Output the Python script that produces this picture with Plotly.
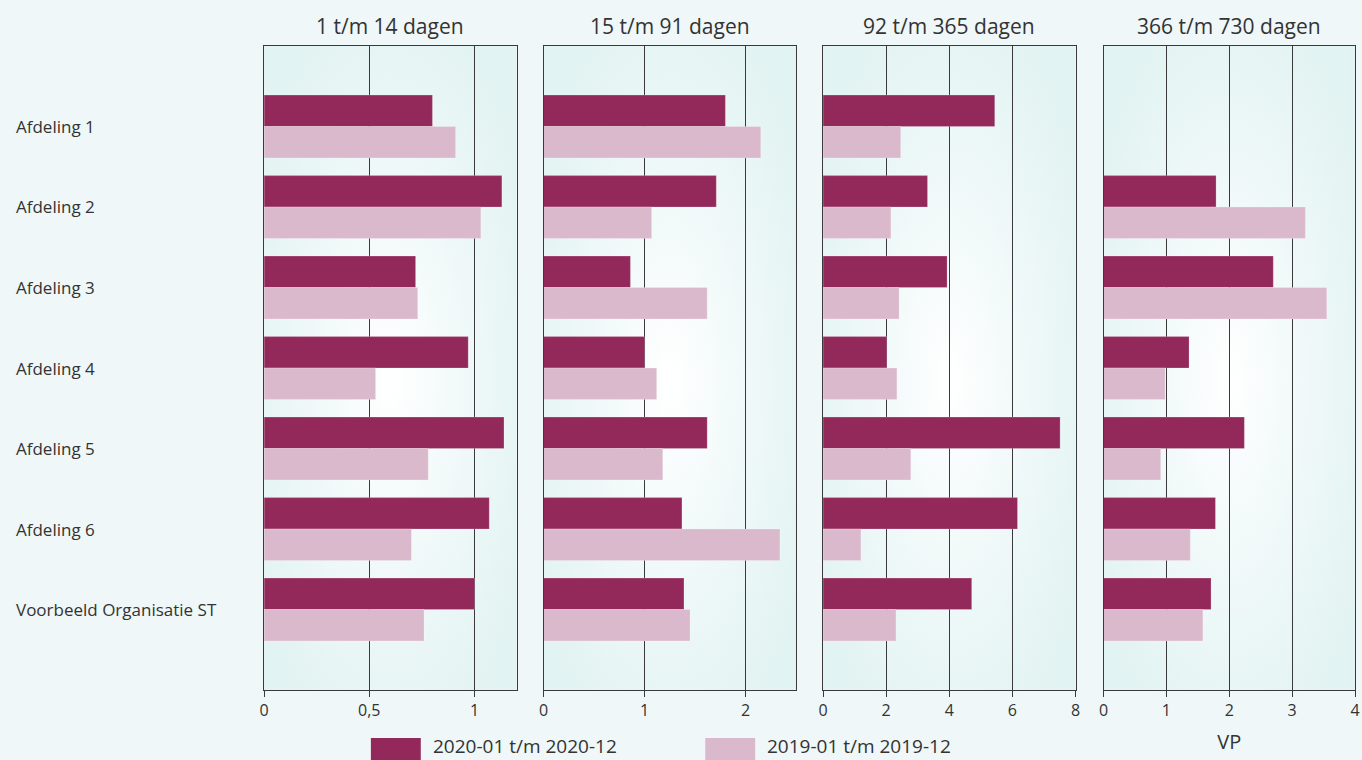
import base64
import plotly.graph_objects as go
from plotly.subplots import make_subplots

categories = ["Afdeling 1", "Afdeling 2", "Afdeling 3", "Afdeling 4",
              "Afdeling 5", "Afdeling 6", "Voorbeeld Organisatie ST"]
panel_titles = ["1 t/m 14 dagen", "15 t/m 91 dagen", "92 t/m 365 dagen", "366 t/m 730 dagen"]
series_names = ["2020-01 t/m 2020-12", "2019-01 t/m 2019-12"]

# values per panel (same order as categories); None = no bar
p1_2020 = [0.80, 1.13, 0.72, 0.97, 1.14, 1.07, 1.00]
p1_2019 = [0.91, 1.03, 0.73, 0.53, 0.78, 0.70, 0.76]
p2_2020 = [1.80, 1.71, 0.86, 1.00, 1.62, 1.37, 1.39]
p2_2019 = [2.15, 1.07, 1.62, 1.12, 1.18, 2.34, 1.45]
p3_2020 = [5.44, 3.31, 3.93, 2.02, 7.51, 6.16, 4.71]
p3_2019 = [2.46, 2.15, 2.41, 2.34, 2.78, 1.20, 2.31]
p4_2020 = [None, 1.79, 2.70, 1.36, 2.24, 1.78, 1.71]
p4_2019 = [None, 3.21, 3.55, 0.98, 0.91, 1.38, 1.58]

x_ranges = [[0, 1.2], [0, 2.5], [0, 8], [0, 4]]
x_tickvals = [[0, 0.5, 1], [0, 1, 2], [0, 2, 4, 6, 8], [0, 1, 2, 3, 4]]
x_ticktext = [["0", "0,5", "1"], ["0", "1", "2"], ["0", "2", "4", "6", "8"], ["0", "1", "2", "3", "4"]]
x_axis_titles = ["", "", "", "VP"]

series_2020 = [p1_2020, p2_2020, p3_2020, p4_2020]
series_2019 = [p1_2019, p2_2019, p3_2019, p4_2019]

DARK = "#93295a"
LIGHT = "#dbb9cd"
TEXT = "#333333"
FONT = "Open Sans"

W, H = 1362, 760


def fx(px):
    # horizontal paper fraction for a target pixel (small render correction)
    return ((px - 3.44) / 0.99451) / W


# panel pixel extents (as seen in the target)
px_left = [263, 543, 823, 1104]
px_right = [516, 796, 1076, 1356]
plot_top, plot_bottom = 46, 690

fig = make_subplots(rows=1, cols=4, shared_yaxes=False)

ypos = list(range(len(categories)))

for i in range(4):
    col = i + 1
    fig.add_trace(go.Bar(
        y=ypos, x=series_2020[i], orientation="h", name=series_names[0],
        marker=dict(color=DARK, line=dict(color="rgba(255,255,255,0.35)", width=0.6)),
        showlegend=False, offsetgroup="a"), row=1, col=col)
    fig.add_trace(go.Bar(
        y=ypos, x=series_2019[i], orientation="h", name=series_names[1],
        marker=dict(color=LIGHT, line=dict(color="rgba(255,255,255,0.35)", width=0.6)),
        showlegend=False, offsetgroup="b"), row=1, col=col)

svg = ("<svg xmlns='http://www.w3.org/2000/svg' width='200' height='400' viewBox='0 0 200 400' "
       "preserveAspectRatio='none'><defs><radialGradient id='g' cx='50%' cy='52%' r='62%'>"
       "<stop offset='0' stop-color='#ffffff'/><stop offset='0.45' stop-color='#f1f9f9'/>"
       "<stop offset='1' stop-color='#e1f3f2'/></radialGradient></defs>"
       "<rect width='200' height='400' fill='url(#g)'/></svg>")
svg_uri = "data:image/svg+xml;base64," + base64.b64encode(svg.encode()).decode()

images = []
for i in range(4):
    ax = "" if i == 0 else str(i + 1)
    xd = [max(0.0, fx(px_left[i])), min(1.0, fx(px_right[i]))]
    fig.update_xaxes(
        domain=xd, range=x_ranges[i], tickvals=x_tickvals[i], ticktext=x_ticktext[i],
        showgrid=True, gridcolor="#3a3a3a", gridwidth=1,
        showline=True, linecolor="#3a3a3a", linewidth=1, mirror=True,
        ticks="outside", ticklen=6, tickcolor="#3a3a3a",
        tickfont=dict(family=FONT, size=16, color=TEXT),
        zeroline=False, fixedrange=True,
        title=dict(text=x_axis_titles[i], font=dict(family=FONT, size=20, color=TEXT), standoff=14),
        row=1, col=i + 1)
    fig.update_yaxes(
        domain=[(H - plot_bottom) / H, (H - plot_top) / H],
        range=[len(categories), -1], showticklabels=False, showgrid=False,
        showline=True, linecolor="#3a3a3a", linewidth=1, mirror=True,
        zeroline=False, ticks="", fixedrange=True,
        row=1, col=i + 1)
    images.append(dict(source=svg_uri, xref="x" + ax + " domain", yref="y" + ax + " domain",
                       x=0, y=1, sizex=1, sizey=1, xanchor="left", yanchor="top",
                       sizing="stretch", layer="below"))

annotations = []
for i, t in enumerate(panel_titles):
    annotations.append(dict(text=t, x=fx((px_left[i] + px_right[i]) / 2), y=(H - 26) / H,
                            xref="paper", yref="paper", showarrow=False,
                            xanchor="center", yanchor="middle",
                            font=dict(family=FONT, size=21, color=TEXT)))
for j, c in enumerate(categories):
    annotations.append(dict(text=c, x=fx(12), y=j, xref="paper", yref="y",
                            showarrow=False, xanchor="left", yanchor="middle",
                            font=dict(family=FONT, size=17, color=TEXT)))

# manual legend
shapes = []
legend_items = [(370, 420, 430, DARK, series_names[0]), (705, 755, 765, LIGHT, series_names[1])]
for x0, x1, tx, colr, name in legend_items:
    shapes.append(dict(type="rect", xref="paper", yref="paper",
                       x0=fx(x0), x1=fx(x1), y0=(H - 762) / H, y1=(H - 738) / H,
                       fillcolor=colr, line=dict(width=0), layer="above"))
    annotations.append(dict(text=name, x=fx(tx), y=(H - 746) / H, xref="paper", yref="paper",
                            showarrow=False, xanchor="left", yanchor="middle",
                            font=dict(family=FONT, size=19, color=TEXT)))

fig.update_layout(
    width=W, height=H, margin=dict(l=0, r=0, t=0, b=0),
    paper_bgcolor="#eff7f8", plot_bgcolor="rgba(0,0,0,0)",
    barmode="group", bargap=0.22, bargroupgap=0,
    showlegend=False, annotations=annotations, shapes=shapes, images=images,
    font=dict(family=FONT, color=TEXT),
)

fig.write_html(
    "out.html",
    config={"responsive": False, "displayModeBar": False},
    post_script="document.body.style.margin='0';document.body.style.padding='0';"
                "document.body.style.overflow='hidden';",
)
